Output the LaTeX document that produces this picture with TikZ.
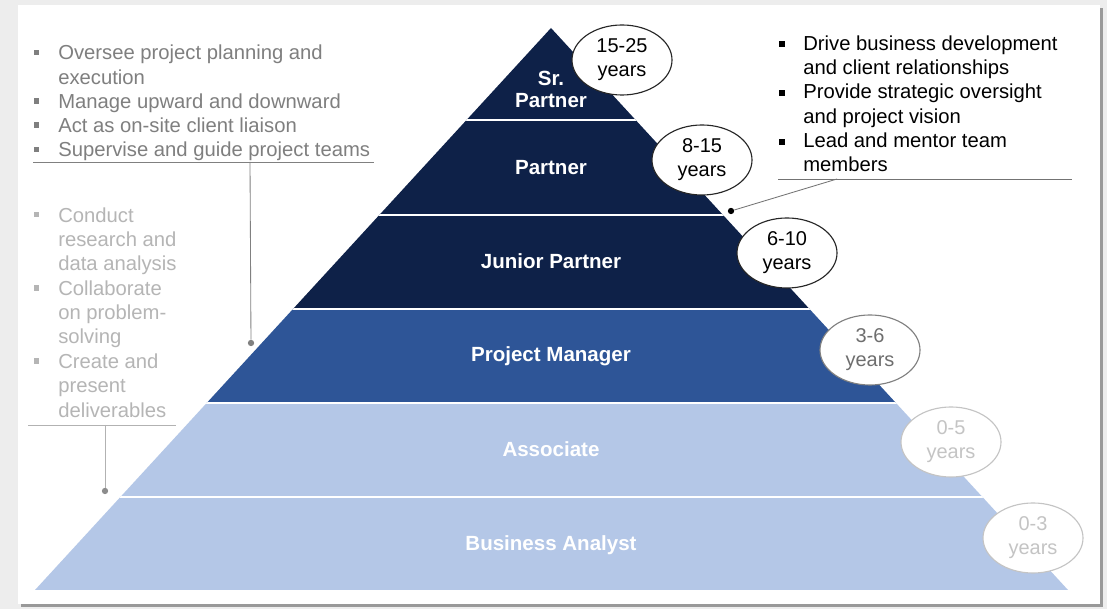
\documentclass[tikz,border=0pt]{standalone}
\usepackage{fontspec}
\setmainfont{Liberation Sans}
\usetikzlibrary{shapes.geometric}
\definecolor{navy}{HTML}{0E2148}
\definecolor{midblue}{HTML}{2E5597}
\definecolor{lightblue}{HTML}{B4C7E7}
\definecolor{txtgrey}{HTML}{7F7F7F}
\definecolor{txtlight}{HTML}{B5B5B5}
\definecolor{elgrey}{HTML}{6E6E6E}
\definecolor{ellight}{HTML}{C4C4C4}
\definecolor{bggrey}{HTML}{EDEDED}
\begin{document}
\begin{tikzpicture}[x=0.025cm,y=-0.025cm,
  lab/.style={text=white, font=\fontsize{14.6}{15.6}\selectfont\bfseries, inner sep=0pt, align=center},
  yrs/.style={ellipse, draw, fill=white, minimum width=2.5cm, minimum height=1.75cm, inner sep=0pt, align=center, font=\fontsize{14.2}{17}\selectfont, line width=0.8pt},
  item/.style={anchor=base west, inner sep=0pt, align=left, font=\fontsize{14.4}{17.3}\selectfont},
  bul/.style={rectangle, minimum size=4.2pt, inner sep=0pt},
  dotc/.style={circle, minimum size=4.5pt, inner sep=0pt}]
\useasboundingbox (0,0) rectangle (1107,609);
% background
\fill[bggrey] (0,0) rectangle (1107,609);
\fill[black!40] (21,8) rectangle (1103,607);
\fill[white] (18,5) rectangle (1100,604);
% pyramid
\begin{scope}
\clip (551,28) -- (1068,590) -- (35,590) -- cycle;
\fill[navy] (0,0) rectangle (1107,309);
\fill[midblue] (0,309) rectangle (1107,403);
\fill[lightblue] (0,403) rectangle (1107,600);
\foreach \y in {120,215,309,403,497} \draw[white, line width=1.2pt] (0,\y) -- (1107,\y);
\end{scope}
% tier labels
\node[lab] (sr) at (551,89) {Sr.\\Partner};
\node[lab, anchor=base] (pa) at (551,175) {Partner};
\node[lab, anchor=base] (jp) at (551,269) {Junior Partner};
\node[lab, anchor=base] (pm) at (551,362) {Project Manager};
\node[lab, anchor=base] (as) at (551,457) {Associate};
\node[lab, anchor=base] (ba) at (551,551) {Business Analyst};
% year ellipses
\node[yrs, draw=black!85] (e1) at (622,60) {15-25\\years};
\node[yrs, draw=black!85] (e2) at (702,160) {8-15\\years};
\node[yrs, draw=black!85] (e3) at (787,253) {6-10\\years};
\node[yrs, draw=black!50, text=elgrey] (e4) at (870,350) {3-6\\years};
\node[yrs, draw=ellight, text=ellight] (e5) at (951,442) {0-5\\years};
\node[yrs, draw=ellight, text=ellight] (e6) at (1033,538) {0-3\\years};
% right list (node placed at the baseline of its last line)
\foreach \n/\y/\k/\t in {r1/50/1/{Drive business development\\and client relationships}, r2/98.8/1/{Provide strategic oversight\\and project vision}, r3/147.6/1/{Lead and mentor team\\members}} {
  \node[bul, fill=black] (\n b) at (782,\y-6) {};
  \node[item, text=black] (\n) at (803,\y+\k*24.4) {\t};
}
\draw[black!55, line width=0.6pt] (778,179) -- (1072,179);
\coordinate (rc) at (837,179);
\node[dotc, fill=black] (rdot) at (731,211) {};
\draw[black!55, line width=0.6pt] (rc) -- (rdot);
% left list 1
\foreach \n/\y/\k/\t in {a1/60/1/{Oversee project planning and\\execution}, a2/108.5/0/{Manage upward and downward}, a3/132.75/0/{Act as on-site client liaison}, a4/157/0/{Supervise and guide project teams}} {
  \node[bul, fill=txtgrey] (\n b) at (36.5,\y-7.5) {};
  \node[item, text=txtgrey] (\n) at (58,\y+\k*24.25) {\t};
}
\draw[black!50, line width=0.6pt] (33,162) -- (374,162);
\coordinate (lc1) at (250,162);
\node[dotc, fill=black!50] (ldot1) at (251,343) {};
\draw[black!50, line width=0.6pt] (lc1) -- (ldot1);
% left list 2
\foreach \n/\y/\k/\t in {b1/222/2/{Conduct\\research and\\data analysis}, b2/295.2/2/{Collaborate\\on problem-\\solving}, b3/368.4/2/{Create and\\present\\deliverables}} {
  \node[bul, fill=txtlight] (\n b) at (36.5,\y-7.5) {};
  \node[item, text=txtlight] (\n) at (58,\y+\k*24.4) {\t};
}
\draw[black!30, line width=0.6pt] (28,425) -- (176,425);
\coordinate (lc2) at (105,425);
\node[dotc, fill=black!45] (ldot2) at (105,491) {};
\draw[black!30, line width=0.6pt] (lc2) -- (ldot2);
\end{tikzpicture}
\end{document}
